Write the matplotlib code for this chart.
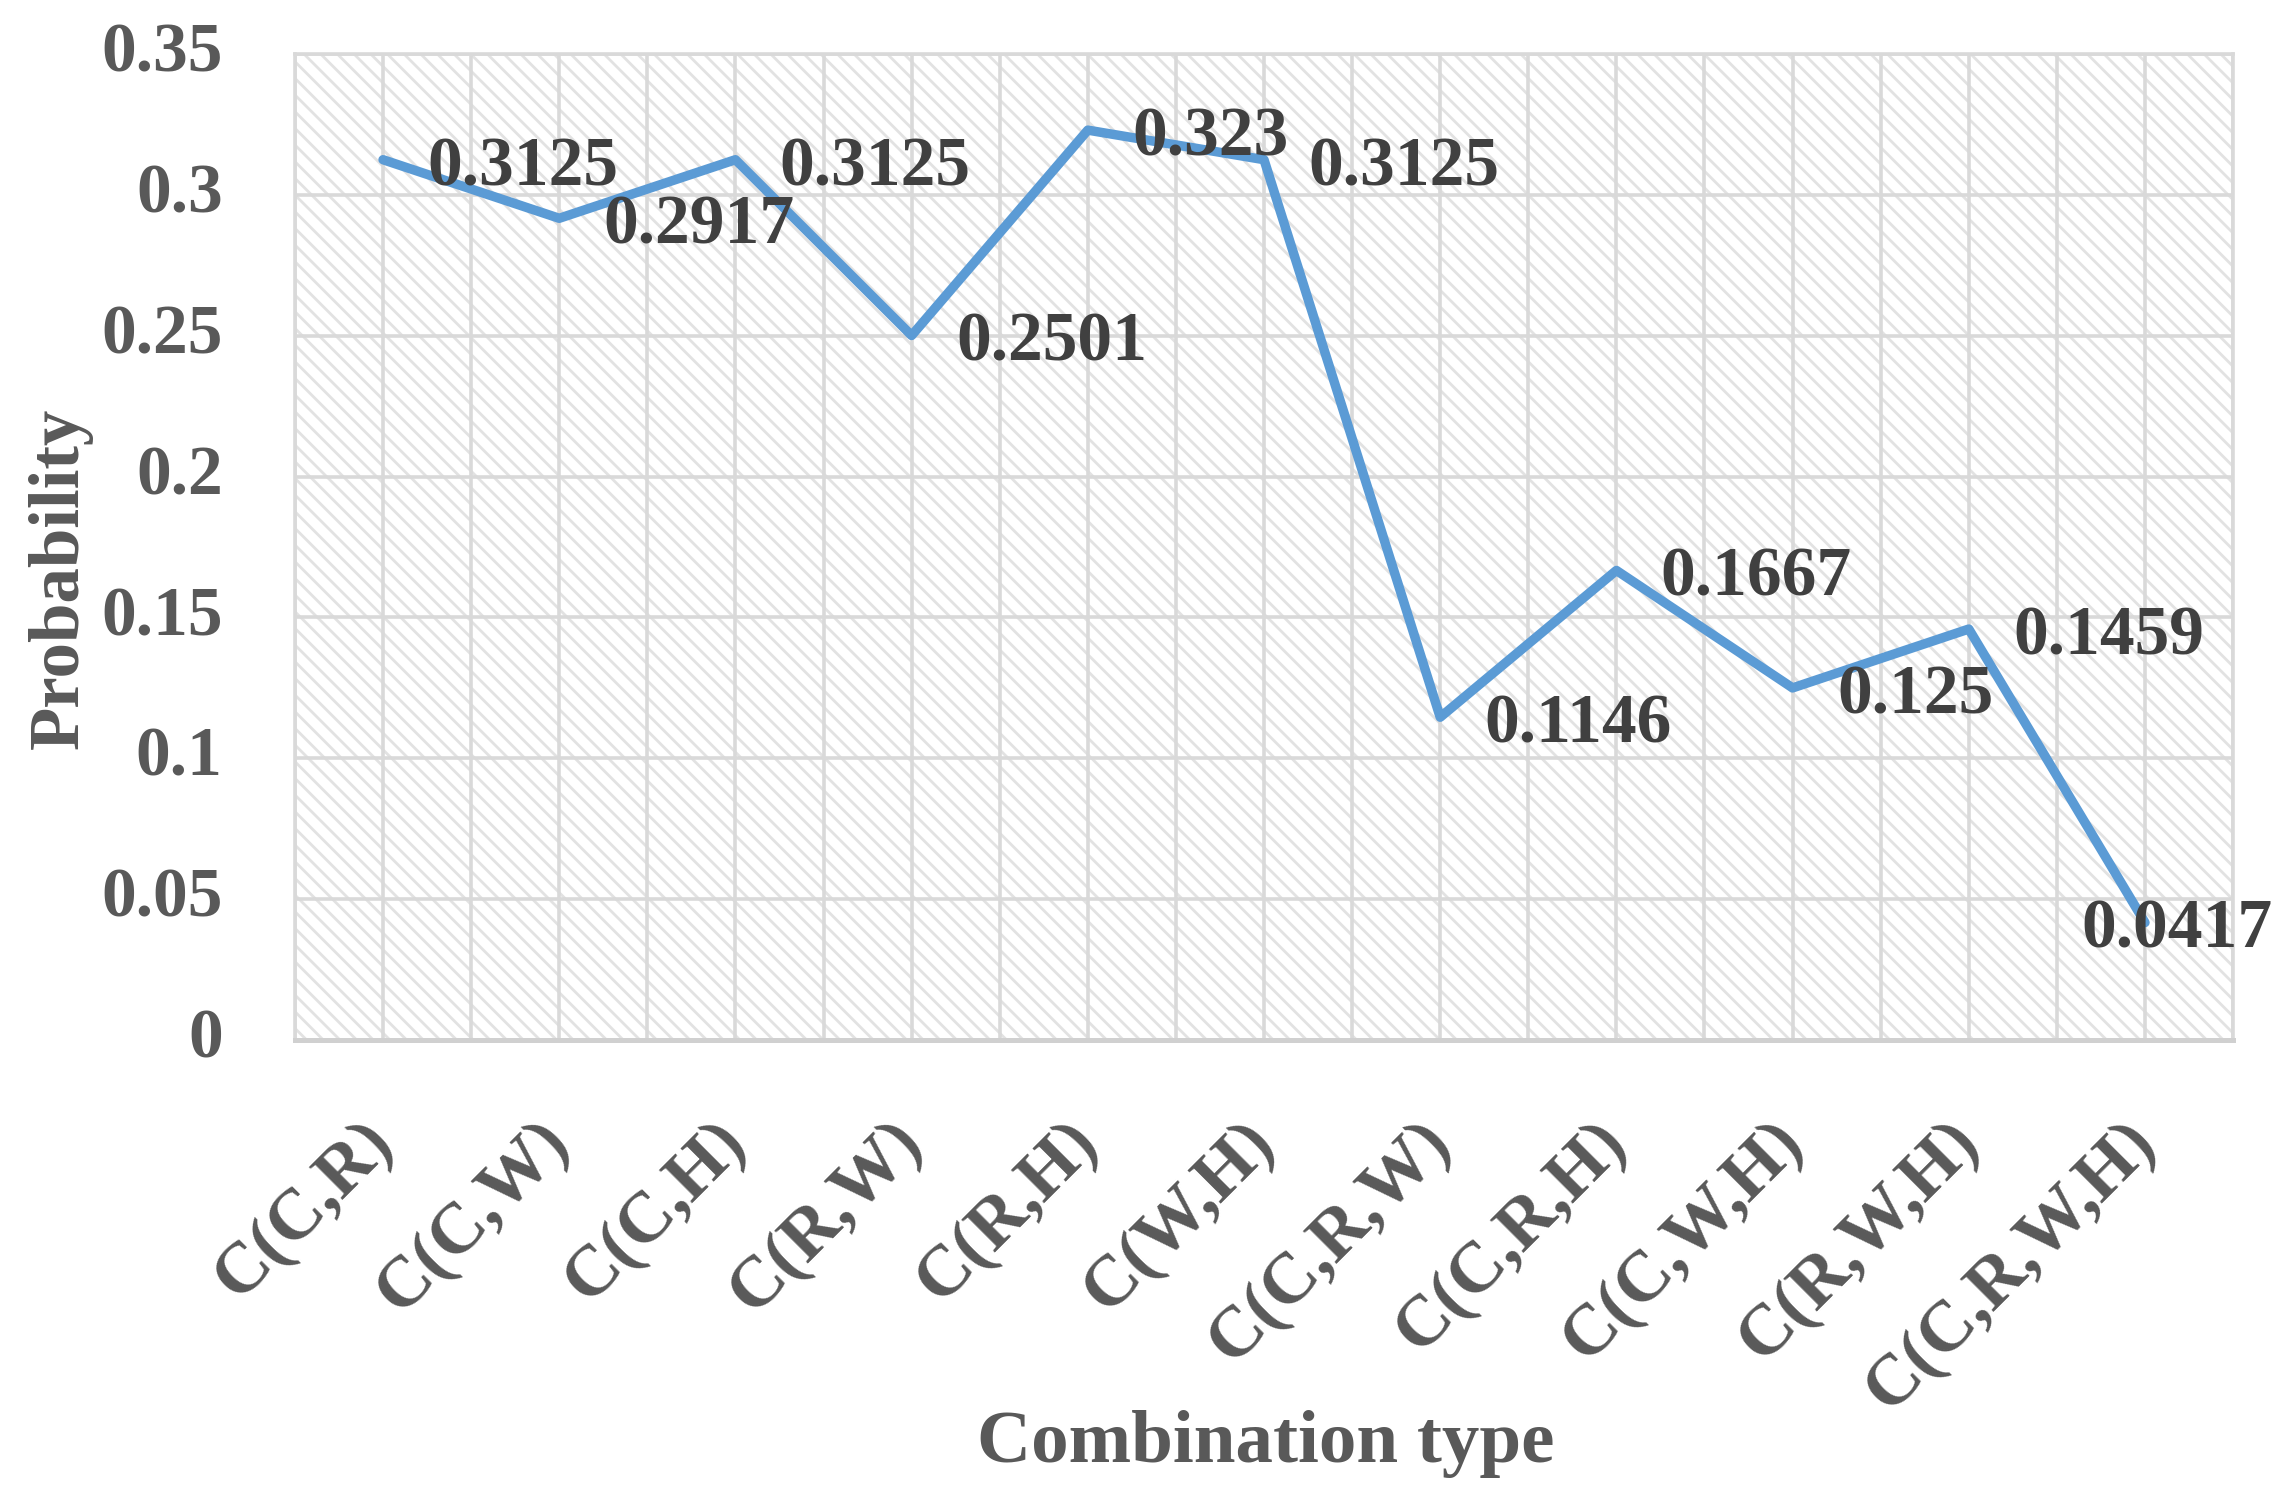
"""Probability of each combination type, line chart with data labels."""
import matplotlib
matplotlib.use("Agg")
import matplotlib.pyplot as plt
import matplotlib.transforms as mtransforms
from matplotlib.patches import Rectangle
import numpy as np

combos = ["C(C,R)", "C(C,W)", "C(C,H)", "C(R,W)", "C(R,H)", "C(W,H)",
          "C(C,R,W)", "C(C,R,H)", "C(C,W,H)", "C(R,W,H)", "C(C,R,W,H)"]
probability = [0.3125, 0.2917, 0.3125, 0.2501, 0.323, 0.3125,
               0.1146, 0.1667, 0.125, 0.1459, 0.0417]
point_labels = ["0.3125", "0.2917", "0.3125", "0.2501", "0.323", "0.3125",
                "0.1146", "0.1667", "0.125", "0.1459", "0.0417"]
y_ticks = [0, 0.05, 0.1, 0.15, 0.2, 0.25, 0.3, 0.35]
y_ticklabels = ["0", "0.05", "0.1", "0.15", "0.2", "0.25", "0.3", "0.35"]

GRID = "#d9d9d9"
TICK_TXT = "#595959"
LABEL_TXT = "#404040"
BLUE = "#5b9bd5"

plt.rcParams["font.family"] = ["Liberation Serif", "DejaVu Serif"]
plt.rcParams["font.weight"] = "bold"
plt.rcParams["hatch.color"] = "#e2e2e2"
plt.rcParams["hatch.linewidth"] = 1.0

fig = plt.figure(figsize=(11.44, 7.53), dpi=200)
ax = fig.add_axes([0.1289, 0.3094, 0.976 - 0.1289, 0.9641 - 0.3094])

# hatched plot area like the Excel pattern fill
ax.add_patch(Rectangle((0, 0), 1, 1, transform=ax.transAxes, facecolor="white",
                       edgecolor="#e2e2e2", hatch="\\\\\\\\", lw=0, zorder=0))

x = np.arange(len(combos))
ax.set_xlim(-0.5, len(combos) - 0.5)
ax.set_ylim(0, 0.35)

ax.set_xticks(x)
ax.set_xticklabels(combos, rotation=45, ha="right", va="center",
                   rotation_mode="anchor", fontsize=26, color=TICK_TXT,
                   fontweight="bold")
ax.set_yticks(y_ticks)
ax.set_yticklabels(y_ticklabels, fontsize=25, color=TICK_TXT, fontweight="bold")
ax.tick_params(axis="x", length=0, pad=33)
ax.tick_params(axis="y", length=0, pad=26)
# nudge y labels up a little, Excel sits them slightly above the gridline
lift = mtransforms.ScaledTranslation(0, 2.5 / 72, fig.dpi_scale_trans)
for lab in ax.get_yticklabels():
    lab.set_transform(lab.get_transform() + lift)

# gridlines at category centres and boundaries
for gx in np.arange(-0.5, len(combos), 0.5):
    ax.axvline(gx, color=GRID, lw=1.3, zorder=1)
for gy in y_ticks:
    ax.axhline(gy, color=GRID, lw=1.3, zorder=1)

for side in ["top", "left", "right"]:
    ax.spines[side].set_color(GRID)
    ax.spines[side].set_linewidth(1.3)
ax.spines["bottom"].set_color("#d0d0d0")
ax.spines["bottom"].set_linewidth(1.8)

ax.plot(x, probability, color=BLUE, lw=3.4, solid_joinstyle="round",
        solid_capstyle="round", zorder=3)

for i, (xi, yi, txt) in enumerate(zip(x, probability, point_labels)):
    dx = 16 if i < len(combos) - 1 else -23
    ax.annotate(txt, (xi, yi), xytext=(dx, -3), textcoords="offset points",
                ha="left", va="center", fontsize=25, color=LABEL_TXT,
                fontweight="bold", annotation_clip=False, zorder=4)

fig.text(0.0262, 0.616, "Probability", rotation=90, ha="center", va="center",
         fontsize=25.5, color=TICK_TXT, fontweight="bold")
fig.text(0.5533, 0.041, "Combination type", ha="center", va="center",
         fontsize=27, color=TICK_TXT, fontweight="bold")

fig.savefig("out.png", dpi=200)
plt.close(fig)
